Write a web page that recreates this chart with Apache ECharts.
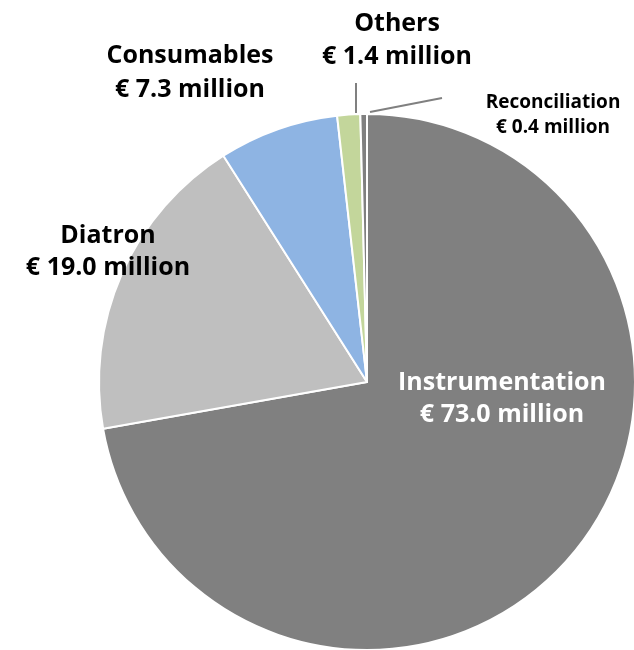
<!DOCTYPE html>
<html><head><meta charset="utf-8">
<script src="https://cdn.jsdelivr.net/npm/echarts@6/dist/echarts.min.js"></script>
<style>html,body{margin:0;padding:0;background:#fff}#c{width:634px;height:650px}</style>
</head><body><div id="c"></div>
<script>
const categories = ['Instrumentation', 'Diatron', 'Consumables', 'Others', 'Reconciliation'];
const values = [73.0, 19.0, 7.3, 1.4, 0.4];
const colors = ['#808080', '#BFBFBF', '#8EB4E3', '#C3D69B', '#808080'];

const labelStyle = [
  {x: 502, y: 399, color: '#ffffff', size: 25, lh: 32, line: null},
  {x: 108, y: 252, color: '#000000', size: 25, lh: 32, line: null},
  {x: 190, y: 73, color: '#000000', size: 25, lh: 34, line: null},
  {x: 397, y: 40, color: '#000000', size: 25, lh: 33, line: [[356, 113], [356, 83]]},
  {x: 553, y: 115, color: '#000000', size: 19, lh: 25, line: [[370, 112], [442, 98]]}
];

const chart = echarts.init(document.getElementById('c'), null, {renderer: 'canvas'});
chart.setOption({
  animation: false,
  series: [{
    type: 'pie',
    center: [367, 382],
    radius: 268,
    startAngle: 90,
    clockwise: true,
    avoidLabelOverlap: false,
    itemStyle: {borderColor: '#ffffff', borderWidth: 2},
    data: categories.map((n, i) => ({
      name: n,
      value: values[i],
      itemStyle: {color: colors[i]},
      label: {
        color: labelStyle[i].color,
        fontSize: labelStyle[i].size,
        lineHeight: labelStyle[i].lh
      },
      labelLine: {show: !!labelStyle[i].line}
    })),
    label: {
      show: true,
      position: 'outside',
      fontFamily: 'Open Sans',
      fontWeight: 'bold',
      align: 'center',
      formatter: p => p.name + '\n€ ' + p.value.toFixed(1) + ' million'
    },
    labelLine: {show: true, lineStyle: {color: '#808080', width: 2}},
    labelLayout: function (params) {
      const s = labelStyle[params.dataIndex];
      const r = {x: s.x, y: s.y, align: 'center', verticalAlign: 'middle'};
      if (s.line) r.labelLinePoints = s.line;
      return r;
    }
  }]
});
</script></body></html>
